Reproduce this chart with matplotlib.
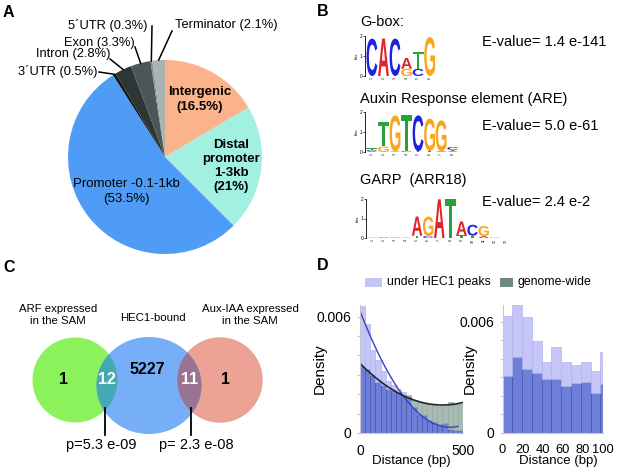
import numpy as np
import matplotlib
matplotlib.use("Agg")
from matplotlib import pyplot as plt
from matplotlib.patches import Ellipse, Rectangle, PathPatch
from matplotlib.textpath import TextPath
from matplotlib.font_manager import FontProperties
from matplotlib.transforms import Affine2D

W, H = 617, 470
plt.rcParams['font.family'] = ['Liberation Sans', 'DejaVu Sans']

# ---- panel A: peak annotation ----
pie_labels = ['Intergenic', 'Distal promoter', 'Promoter', "3´UTR", 'Intron', 'Exon', "5´UTR", 'Terminator']
pie_values = [16.5, 21, 53.5, 0.5, 2.8, 3.3, 0.3, 2.1]
pie_colors = ['#fbb38c', '#a2f0e2', '#4f9cf6', '#0e1212', '#2e3535', '#4c5656', '#7e8a88', '#aab3b1']

# ---- panel B: motifs (letter, bits) bottom to top ----
gbox_motif = [[('C', 1.87)], [('A', 1.87)], [('C', 1.87)],
              [('G', 0.36), ('A', 0.54)], [('C', 0.36), ('T', 0.86)], [('G', 1.95)]]
are_motif = [[('A', 0.05), ('C', 0.05), ('T', 0.08)], [('G', 0.28), ('T', 1.22)],
             [('A', 0.03), ('G', 1.80)], [('C', 0.04), ('T', 1.79)], [('T', 0.04), ('C', 1.79)],
             [('T', 0.05), ('G', 1.62)], [('A', 0.04), ('G', 1.54)],
             [('A', 0.04), ('T', 0.07), ('C', 0.14)]]
garp_motif = [[('A', 0.02)], [('C', 0.02), ('A', 0.02)], [('G', 0.02), ('A', 0.02)], [('A', 0.02)],
              [('T', 0.12), ('A', 0.98)], [('C', 0.10), ('G', 1.00)], [('A', 1.98)], [('T', 1.98)],
              [('T', 0.15), ('A', 0.70)], [('T', 0.12), ('C', 0.56)], [('A', 0.10), ('G', 0.52)],
              [('G', 0.04)], []]
motif_titles = ['G-box:', 'Auxin Response element (ARE)', 'GARP  (ARR18)']
motif_evalues = ['E-value= 1.4 e-141', 'E-value= 5.0 e-61', 'E-value= 2.4 e-2']
letter_colors = {'A': '#e0242a', 'C': '#1f22e0', 'G': '#f7a61e', 'T': '#26a43a'}

# ---- panel C: Venn ----
venn_counts = ['1', '12', '5227', '11', '1']
venn_sets = ['ARF expressed\nin the SAM', 'HEC1-bound', 'Aux-IAA expressed\nin the SAM']
venn_pvalues = ['p=5.3 e-09', 'p= 2.3 e-08']

# ---- panel D: distance histograms ----
left_edges = [0, 25, 50, 75, 100, 125, 150, 175, 200, 225, 250, 275, 300, 325, 350, 375, 400, 425, 450, 475, 500]
hec1_left = [0.00657, 0.00562, 0.00430, 0.00375, 0.00322, 0.00268, 0.00250, 0.00225, 0.00212, 0.00185,
             0.00134, 0.00099, 0.00091, 0.00065, 0.00057, 0.00048, 0.00051, 0.00022, 0.00017, 0.00017]
genome_left = [0.00348, 0.00331, 0.00297, 0.00262, 0.00245, 0.00228, 0.00223, 0.00211, 0.00194, 0.00197,
               0.00168, 0.00159, 0.00155, 0.00151, 0.00142, 0.00137, 0.00137, 0.00159, 0.00151, 0.00151]
right_edges = [0, 9.75, 19.5, 29.25, 39, 48.75, 58.5, 68.25, 78, 87.75, 97.5, 100]
hec1_right = [0.00631, 0.00690, 0.00627, 0.00498, 0.00384, 0.00462, 0.00384, 0.00366, 0.00384, 0.00336, 0.00435]
genome_right = [0.00307, 0.00408, 0.00343, 0.00325, 0.00289, 0.00291, 0.00253, 0.00268, 0.00273, 0.00217, 0.00264]

LAV = '#c5c5f8'
OVER = '#6e7fda'
GREY = '#a9bab3'


def box(x0, y0, x1, y1):
    # pixel box (y down) -> figure fraction
    return [x0 / W, 1 - y1 / H, (x1 - x0) / W, (y1 - y0) / H]


def draw_letter(ax, ch, x, y0, w, h, fp):
    tp = TextPath((0, 0), ch, size=1, prop=fp)
    bb = tp.get_extents()
    tr = Affine2D().translate(-bb.x0, -bb.y0).scale(w / bb.width, h / bb.height).translate(x - w / 2, y0)
    ax.add_patch(PathPatch(tr.transform_path(tp), fc=letter_colors[ch], lw=0))


def draw_logo(ax, motif):
    fp = FontProperties(family='Liberation Sans', weight='bold')
    for i, col in enumerate(motif, start=1):
        y = 0
        for ch, h in col:
            draw_letter(ax, ch, i, y, 0.94, h, fp)
            y += h
    n = len(motif)
    ax.set_xlim(0.4, n + 0.55)
    ax.set_ylim(0, 2)
    for s in ['top', 'right', 'bottom']:
        ax.spines[s].set_visible(False)
    ax.spines['left'].set_linewidth(0.6)
    ax.set_yticks([0, 1, 2])
    ax.set_xticks(range(1, n + 1))
    ax.tick_params(axis='y', labelsize=3.5, length=1.5, width=0.5, pad=0.5)
    ax.tick_params(axis='x', labelsize=2.5, length=0, pad=0.5, labelrotation=90)
    ax.set_ylabel('bits', fontsize=3, labelpad=0.5)
    ax.patch.set_alpha(0)


def draw_hist(ax, edges, hec1, genome):
    edges = np.array(edges)
    lefts = edges[:-1]
    widths = np.diff(edges)
    h = np.array(hec1)
    g = np.array(genome)
    low = np.minimum(h, g)
    ax.bar(lefts, low, width=widths, align='edge', color=OVER, edgecolor='#4d59aa', lw=0.6)
    m = h > g
    ax.bar(lefts[m], (h - g)[m], bottom=low[m], width=widths[m], align='edge',
           color=LAV, edgecolor='#b2b3ef', lw=0.5)
    m = g > h
    ax.bar(lefts[m], (g - h)[m], bottom=low[m], width=widths[m], align='edge',
           color=GREY, edgecolor='#98aaa3', lw=0.5)
    for s in ['top', 'right']:
        ax.spines[s].set_visible(False)
    for s in ['left', 'bottom']:
        ax.spines[s].set_color('#c8c8c8')
        ax.spines[s].set_linewidth(0.8)
    ax.set_yticks([0, 0.001, 0.002, 0.003, 0.004, 0.005, 0.006])
    ax.set_yticklabels(['0', '', '', '', '', '', '0.006'])
    ax.tick_params(axis='y', colors='#c8c8c8', labelcolor='black', labelsize=10, length=2, pad=4)
    ax.tick_params(axis='x', colors='#c8c8c8', labelcolor='black', labelsize=10, length=0, pad=8)
    ax.set_ylabel('Density', fontsize=11)
    ax.set_xlabel('Distance (bp)', fontsize=9.5)


fig = plt.figure(figsize=(W / 100, H / 100), dpi=100)

# ---- A ----
axA = fig.add_axes(box(65, 57, 265, 257))
wedges, _ = axA.pie(pie_values, colors=pie_colors, startangle=90, counterclock=False, radius=0.97)
axA.set_xlim(-1, 1)
axA.set_ylim(-1, 1)
axA.axis('off')


def p2a(x, y):
    return (x - 165) / 100, (157 - y) / 100


inner = [('Intergenic\n(16.5%)', 200, 99.5, 'bold'),
         ('Distal\npromoter\n1-3kb\n(21%)', 231, 166, 'bold'),
         ('Promoter -0.1-1kb\n(53.5%)', 126, 191.5, 'normal')]
for txt, x, y, wt in inner:
    axA.text(*p2a(x, y), txt, ha='center', va='center', fontsize=9.5, weight=wt, linespacing=1.25)

# outer labels: (wedge index, label text, text x, text y, ha, line start x, y)
outer = [(7, 'Terminator (2.1%)', 175, 25, 'left', 172, 31),
         (6, '5´UTR (0.3%)', 148, 25, 'right', 152, 26),
         (5, 'Exon (3.3%)', 135, 43, 'right', 135, 47),
         (4, 'Intron (2.8%)', 110, 54, 'right', 110, 59),
         (3, '3´UTR (0.5%)', 98, 72, 'right', 99, 72)]
for idx, txt, tx, ty, ha, lx, ly in outer:
    w = wedges[idx]
    th = np.deg2rad((w.theta1 + w.theta2) / 2)
    ex, ey = 0.97 * np.cos(th), 0.97 * np.sin(th)
    sx, sy = p2a(lx, ly)
    axA.plot([sx, ex], [sy, ey], color='black', lw=1.1, clip_on=False)
    axA.text(*p2a(tx, ty), txt, ha=ha, va='center', fontsize=9.3, clip_on=False)

# ---- B ----
logo_boxes = [(365, 36, 436, 76), (365, 112, 459, 152), (366, 199, 512, 238)]
for motif, bx in zip([gbox_motif, are_motif, garp_motif], logo_boxes):
    ax = fig.add_axes(box(*bx))
    draw_logo(ax, motif)

# ---- D ----
axL = fig.add_axes(box(360, 305, 463, 433))
draw_hist(axL, left_edges, hec1_left, genome_left)
centers = (np.array(left_edges[:-1]) + np.array(left_edges[1:])) / 2
fit_h = np.polyfit(centers, hec1_left, 2)
fit_g = np.polyfit(centers, genome_left, 2)
xs = np.linspace(0, 475, 200)
axL.plot(xs, np.polyval(fit_h, xs), color='#3a40c4', lw=1.0)
xs = np.linspace(0, 500, 200)
axL.plot(xs, np.polyval(fit_g, xs), color='#1c2828', lw=1.2)
axL.set_xlim(0, 500)
axL.set_ylim(0, 0.0066)
axL.set_xticks([0, 500])
axL.yaxis.set_label_coords(-0.32, 0.5)
axL.xaxis.set_label_coords(0.5, -0.175)

axR = fig.add_axes(box(502.5, 305, 603, 433))
draw_hist(axR, right_edges, hec1_right, genome_right)
axR.set_xlim(0, 100)
axR.set_ylim(0, 0.0069)
axR.set_xticks([0, 20, 40, 60, 80, 100])
axR.tick_params(axis='x', labelsize=9.3)
axR.yaxis.set_label_coords(-0.26, 0.5)
axR.xaxis.set_label_coords(0.56, -0.175)

# ---- overlay in pixel coords: letters, texts, Venn ----
ov = fig.add_axes([0, 0, 1, 1])
ov.set_xlim(0, W)
ov.set_ylim(H, 0)
ov.axis('off')

for lab, x, y in [('A', 3, 12.5), ('B', 317, 12), ('C', 3, 267), ('D', 317, 265.5)]:
    ov.text(x, y, lab, fontsize=11.5, weight='bold', ha='left', va='center')

for t, e, ty, ey in zip(motif_titles, motif_evalues, [22, 99, 180], [42, 126, 202]):
    ov.text(360, ty, t, fontsize=10.5, ha='left', va='center')
    ov.text(482, ey, e, fontsize=10.5, ha='left', va='center')

# legend of D
ov.add_patch(Rectangle((365, 278), 17, 9, color=LAV, lw=0))
ov.text(387, 282.5, 'under HEC1 peaks', fontsize=8.8, ha='left', va='center')
ov.add_patch(Rectangle((500, 278), 13, 9, color='#6e8a80', lw=0))
ov.text(517, 282.5, 'genome-wide', fontsize=8.8, ha='left', va='center')

# Venn
green = Ellipse((75, 380), 85, 85, color='#8cf25c', lw=0)
salmon = Ellipse((220, 380), 85.4, 85.4, color='#eca294', lw=0)
blue = Ellipse((149, 385.5), 105, 97, color='#76aef7', lw=0)
for p in [green, salmon, blue]:
    ov.add_patch(p)
teal = Ellipse((75, 380), 85, 85, color='#45a9b3', lw=0)
purple = Ellipse((220, 380), 85.4, 85.4, color='#9b7392', lw=0)
for p in [teal, purple]:
    ov.add_patch(p)
    p.set_clip_path(blue)

count_pos = [(64, 379, 'black'), (106.5, 379, 'white'), (147, 370, 'black'), (190, 379, 'white'), (226, 379, 'black')]
for c, (x, y, col) in zip(venn_counts, count_pos):
    ov.text(x, y, c, fontsize=11.5, weight='bold', color=col, ha='center', va='center')

for t, x, y in zip(venn_sets, [58, 152.5, 250], [315, 318, 315]):
    ov.text(x, y, t, fontsize=8.2, ha='center', va='center', linespacing=1.25)

for lx, px, t in zip([105, 191], [101, 196], venn_pvalues):
    ov.plot([lx, lx], [408, 435], color='black', lw=1.3)
    ov.text(px, 445, t, fontsize=10.5, ha='center', va='center')

fig.savefig('out.png', dpi=100)
